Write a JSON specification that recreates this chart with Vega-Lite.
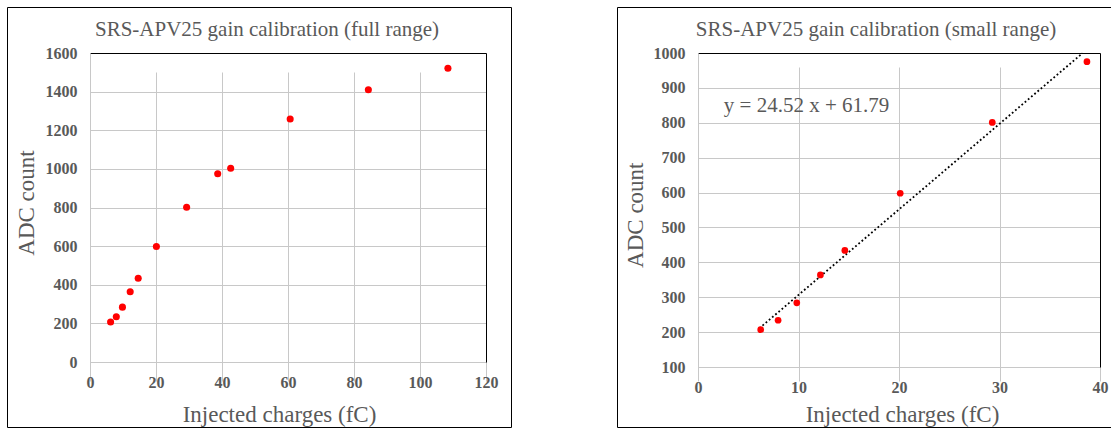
{
  "$schema": "https://vega.github.io/schema/vega-lite/v6.json",
  "padding": {"left": 6, "top": 6, "right": 0, "bottom": 0},
  "background": "white",
  "datasets": {
    "cal": [
      {"q": 6.24, "adc": 207},
      {"q": 7.97, "adc": 234},
      {"q": 9.83, "adc": 284},
      {"q": 12.18, "adc": 364},
      {"q": 14.61, "adc": 434},
      {"q": 20.12, "adc": 598},
      {"q": 29.28, "adc": 801},
      {"q": 38.7, "adc": 975},
      {"q": 42.63, "adc": 1003},
      {"q": 60.66, "adc": 1258},
      {"q": 84.35, "adc": 1410},
      {"q": 108.46, "adc": 1521}
    ],
    "eq": [
      {"q": 10.8, "adc": 830, "label": "y = 24.52 x + 61.79"}
    ]
  },
  "spacing": 104,
  "hconcat": [
    {
      "width": 504,
      "height": 420,
      "title": {"text": "SRS-APV25 gain calibration (full range)", "dx": 8},
      "data": {"name": "cal"},
      "layer": [
        {
          "mark": {"type": "point", "filled": true, "color": "#ff0000", "opacity": 1, "size": 50},
          "encoding": {
            "x": {"field": "q", "type": "quantitative",
              "scale": {"domain": [0, 120], "range": [83, 479], "nice": false, "zero": false},
              "axis": {"orient": "bottom", "offset": -65, "values": [0, 20, 40, 60, 80, 100, 120], "format": "d",
                "title": "Injected charges (fC)", "titleX": 272, "titleY": 59, "titleAlign": "center", "titleBaseline": "alphabetic",
                "labelPadding": 12}},
            "y": {"field": "adc", "type": "quantitative",
              "scale": {"domain": [0, 1600], "range": [355, 46], "nice": false, "zero": false},
              "axis": {"orient": "left", "offset": -83, "values": [0, 200, 400, 600, 800, 1000, 1200, 1400, 1600], "format": "d",
                "title": "ADC count", "titleX": -57, "titleY": 195.5, "titleAlign": "center", "titleBaseline": "alphabetic", "titleAngle": -90,
                "labelPadding": 13}}
          }
        },
        {
          "mark": {"type": "point", "filled": true, "opacity": 0, "size": 1},
          "encoding": {
            "x": {"field": "q", "type": "quantitative",
              "scale": {"domain": [0, 120], "range": [83, 479], "nice": false, "zero": false},
              "axis": {"orient": "top", "offset": -46, "labels": false, "grid": false, "title": null, "domainColor": "#000000"}},
            "y": {"field": "adc", "type": "quantitative",
              "scale": {"domain": [0, 1600], "range": [355, 46], "nice": false, "zero": false},
              "axis": {"orient": "right", "offset": -25, "labels": false, "grid": false, "title": null, "domainColor": "#000000"}}
          }
        }
      ],
      "resolve": {"axis": {"x": "independent", "y": "independent"}}
    },
    {
      "width": 496,
      "height": 420,
      "title": {"text": "SRS-APV25 gain calibration (small range)", "dx": 11},
      "layer": [
        {
          "data": {"name": "cal"},
          "transform": [
            {"filter": "datum.q < 40"},
            {"regression": "adc", "on": "q", "extent": [6.1, 38.26]}
          ],
          "mark": {"type": "line", "color": "#000000", "strokeWidth": 1.8, "strokeDash": [1.8, 2.4]},
          "encoding": {
            "x": {"field": "q", "type": "quantitative",
              "scale": {"domain": [0, 40], "range": [81, 483], "nice": false, "zero": false},
              "axis": {"orient": "bottom", "offset": -60, "values": [0, 10, 20, 30, 40], "format": "d",
                "title": "Injected charges (fC)", "titleX": 285, "titleY": 54, "titleAlign": "center", "titleBaseline": "alphabetic",
                "labelPadding": 12}},
            "y": {"field": "adc", "type": "quantitative",
              "scale": {"domain": [100, 1000], "range": [360, 46], "nice": false, "zero": false},
              "axis": {"orient": "left", "offset": -81, "values": [100, 200, 300, 400, 500, 600, 700, 800, 900, 1000], "format": "d",
                "title": "ADC count", "titleX": -56, "titleY": 207.7, "titleAlign": "center", "titleBaseline": "alphabetic", "titleAngle": -90,
                "labelPadding": 13}}
          }
        },
        {
          "data": {"name": "cal"},
          "transform": [{"filter": "datum.q < 40"}],
          "mark": {"type": "point", "filled": true, "color": "#ff0000", "opacity": 1, "size": 45},
          "encoding": {
            "x": {"field": "q", "type": "quantitative",
              "scale": {"domain": [0, 40], "range": [81, 483], "nice": false, "zero": false},
              "axis": {"orient": "top", "offset": -46, "labels": false, "grid": false, "title": null, "domainColor": "#000000"}},
            "y": {"field": "adc", "type": "quantitative",
              "scale": {"domain": [100, 1000], "range": [360, 46], "nice": false, "zero": false},
              "axis": {"orient": "right", "offset": -13, "labels": false, "grid": false, "title": null, "domainColor": "#000000"}}
          }
        },
        {
          "data": {"name": "eq"},
          "mark": {"type": "text", "font": "Liberation Serif", "fontSize": 21, "color": "#595959", "align": "center", "baseline": "alphabetic"},
          "encoding": {
            "x": {"field": "q", "type": "quantitative", "axis": null},
            "y": {"field": "adc", "type": "quantitative", "axis": null},
            "text": {"field": "label"}
          }
        }
      ],
      "resolve": {"axis": {"x": "independent", "y": "independent"}}
    }
  ],
  "config": {
    "view": {"stroke": "#000000", "strokeWidth": 1},
    "title": {"font": "Liberation Serif", "fontSize": 21, "fontWeight": "normal", "color": "#595959", "anchor": "middle", "frame": "group", "offset": -33, "baseline": "alphabetic"},
    "axis": {
      "labelFont": "Liberation Serif", "labelFontSize": 16, "labelFontWeight": "bold", "labelColor": "#595959",
      "titleFont": "Liberation Serif", "titleFontSize": 23, "titleFontWeight": "normal", "titleColor": "#595959",
      "gridColor": "#c8c8c8", "gridWidth": 1, "gridOpacity": 1,
      "domainColor": "#c8c8c8", "domainWidth": 1,
      "ticks": false, "tickSize": 0, "labelOverlap": false, "labelFlush": false
    }
  }
}
